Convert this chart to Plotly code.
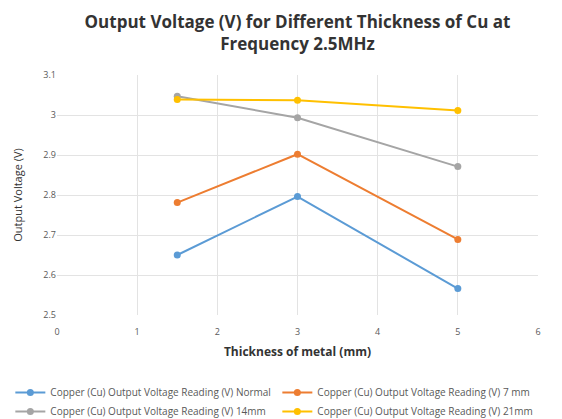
import plotly.graph_objects as go

thickness = [1.5, 3, 5]
normal = [2.65, 2.796, 2.566]
mm7 = [2.781, 2.902, 2.689]
mm14 = [3.047, 2.993, 2.871]
mm21 = [3.039, 3.037, 3.011]

names = [
    "Copper (Cu) Output Voltage Reading (V) Normal",
    "Copper (Cu) Output Voltage Reading (V) 7 mm",
    "Copper (Cu) Output Voltage Reading (V) 14mm",
    "Copper (Cu) Output Voltage Reading (V) 21mm",
]
series = [normal, mm7, mm14, mm21]
colors = ["#5B9BD5", "#ED7D31", "#A5A5A5", "#FFC000"]

fig = go.Figure()
for n, s, c in zip(names, series, colors):
    fig.add_trace(go.Scatter(
        x=thickness, y=s, name=n, mode="lines+markers",
        line=dict(color=c, width=2),
        marker=dict(color=c, size=7),
    ))

font = "Open Sans, Liberation Sans, sans-serif"
fig.update_layout(
    width=562, height=419,
    margin=dict(l=57, r=24, t=75, b=104, autoexpand=False),
    paper_bgcolor="white", plot_bgcolor="white",
    font=dict(family=font, color="#595959", size=8),
    title=dict(
        text="<b>Output Voltage (V) for Different Thickness of Cu at<br>Frequency 2.5MHz</b>",
        x=0.5, xanchor="center", xref="paper",
        yref="container", y=0.934, yanchor="middle",
        font=dict(size=17, color="#333333", family=font),
    ),
    xaxis=dict(
        range=[0, 6], dtick=1, tick0=0,
        showgrid=True, gridcolor="#E3E3E3", gridwidth=1,
        zeroline=False, showline=False,
        ticks="outside", ticklen=8, tickcolor="rgba(0,0,0,0)",
        tickfont=dict(size=9, color="#595959"),
        title=dict(text="<b>Thickness of metal (mm)</b>", font=dict(size=12, color="#333333"), standoff=10),
    ),
    yaxis=dict(
        range=[2.5, 3.1], dtick=0.1, tick0=2.5,
        showgrid=True, gridcolor="#E3E3E3", gridwidth=1,
        zeroline=False, showline=False,
        ticks="", tickfont=dict(size=9, color="#595959"),
        title=dict(text="Output Voltage (V)", font=dict(size=11, color="#333333"), standoff=18),
    ),
    legend=dict(
        orientation="h", x=-0.097, xanchor="left", y=-0.262, yanchor="top",
        font=dict(size=10, color="#595959"),
        entrywidth=222, entrywidthmode="pixels",
        tracegroupgap=0, itemwidth=30,
    ),
)

fig.write_html("out.html")
